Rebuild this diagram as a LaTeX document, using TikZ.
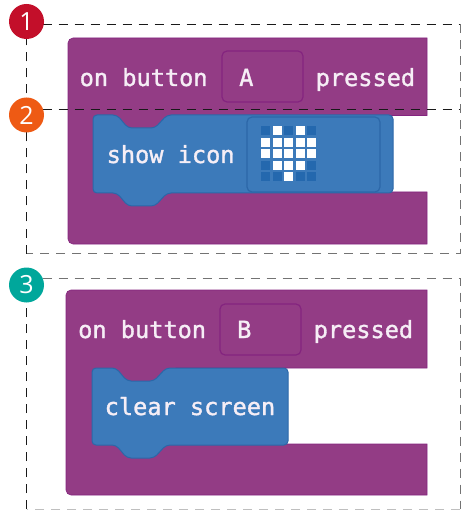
\documentclass[tikz,border=0pt]{standalone}
\usepackage{fontspec}
\setmainfont{Open Sans}
\newfontfamily\blockfont[FakeBold=1.4]{DejaVu Sans Mono}
\definecolor{purp}{HTML}{933C85}
\definecolor{purpline}{HTML}{84247F}
\definecolor{blk}{HTML}{3C7ABA}
\definecolor{blkline}{HTML}{2C67A8}
\definecolor{ledoff}{HTML}{2468AE}
\definecolor{txt}{HTML}{F6EEF6}
\definecolor{redc}{HTML}{C30F2A}
\definecolor{orangec}{HTML}{EE5A14}
\definecolor{tealc}{HTML}{00A79B}
\newcommand{\hatblock}[4]{% x1 x2 y1 y2: statement block with notch
  \fill[blk,draw=blkline,line width=1pt,rounded corners=4pt]
    (#1,#3) -- ({#1+24},#3) -- ({#1+35},{#3+13}) -- ({#1+62},{#3+13}) -- ({#1+74},#3)
    -- (#2,#3) -- (#2,#4) -- ({#1+74},#4) -- ({#1+62},{#4+13}) -- ({#1+35},{#4+13})
    -- ({#1+24},#4) -- (#1,#4) -- cycle;}
\newcommand{\eventblock}[6]{% x1 x2 y1 y2(bar bottom) y3(lower top) y4
  \fill[purp,draw=purpline,line width=.6pt]
    (#2,#3) [rounded corners=5pt] -- (#1,#3) -- (#1,#6) [sharp corners] -- (#2,#6) -- (#2,#5)
    -- ({#1+110},#5) -- ({#1+110},#4) -- (#2,#4) -- cycle;}
\newcommand{\ledrow}[6]{% y, five bits
  \ledcell{265.7}{#1}{#2}\ledcell{277.3}{#1}{#3}\ledcell{288.7}{#1}{#4}\ledcell{300.3}{#1}{#5}\ledcell{311.7}{#1}{#6}}
\newcommand{\ledcell}[3]{%
  \ifnum#3=1\relax\def\ledcolor{white}\else\def\ledcolor{ledoff}\fi
  \fill[\ledcolor] ({#1-4.5},{#2-4.5}) rectangle ({#1+4.5},{#2+4.5});}
\tikzset{
  blocktext/.style={font=\blockfont\fontsize{23.6}{26}\selectfont,text=txt,inner sep=0pt,anchor=base west},
  field/.style={draw=purpline,line width=1.2pt,rounded corners=5pt},
  guide/.style={draw=black!90,line width=1pt,dash pattern=on 9pt off 7pt},
  guidegray/.style={draw=black!55,line width=1pt,dash pattern=on 9pt off 7pt},
  guidefaint/.style={draw=black!25,line width=1pt,dash pattern=on 9pt off 7pt},
  badge/.style={circle,minimum size=35pt,inner sep=0pt,text=white,font=\fontsize{25}{27}\selectfont}
}
\begin{document}
\begin{tikzpicture}[x=1pt,y=-1pt]
\useasboundingbox (0,0) rectangle (465,510);
% guide boxes
\coordinate (b1a) at (26.5,24.5);
\coordinate (b1b) at (460,24.5);
\coordinate (b1c) at (460,253.5);
\coordinate (b1d) at (26.5,253.5);
\coordinate (m1a) at (26.5,110);
\coordinate (m1b) at (460,110);
\coordinate (b3a) at (26.5,278);
\coordinate (b3b) at (460,278);
\coordinate (b3c) at (460,509);
\coordinate (b3d) at (26.5,509);
\draw[guide] (b1a) -- (b1b);
\draw[guidegray] (b1b) -- (b1c) -- (b1d);
\draw[guide] (b1d) -- (b1a);
\draw[guidegray] (b3a) -- (b3b) -- (b3c);
\draw[guidefaint] (b3c) -- (b3d);
\draw[guide] (b3d) -- (b3a);
% block 1
\eventblock{68}{427}{38}{115.5}{192}{244}
\draw[field] (222,51) rectangle (303,102);
\node[blocktext] (t1) at (79.5,86) {on button};
\node[blocktext] (t2) at (239,86) {A};
\node[blocktext] (t3) at (315.5,86) {pressed};
\hatblock{93}{393}{115}{193}
\node[blocktext] (t4) at (106.5,163) {show icon};
\fill[blk,draw=blkline,line width=1.2pt,rounded corners=5pt] (247,117) rectangle (380,192);
\ledrow{130.7}{0}{1}{0}{1}{0}
\ledrow{142.7}{1}{1}{1}{1}{1}
\ledrow{154}{1}{1}{1}{1}{1}
\ledrow{165.3}{0}{1}{1}{1}{0}
\ledrow{176.7}{0}{0}{1}{0}{0}
% block 2
\eventblock{66}{427}{290}{368}{444}{495}
\draw[field] (220,304) rectangle (301,355);
\node[blocktext] (t5) at (78,338) {on button};
\node[blocktext] (t6) at (237,338) {B};
\node[blocktext] (t7) at (313.5,338) {pressed};
\hatblock{92}{288}{368}{445}
\node[blocktext] (t8) at (104.5,415) {clear screen};
% guide over the blocks
\draw[guide] (m1a) -- (m1b);
% badges
\node[badge,fill=redc] (n1) at (26.5,21.5) {1};
\node[badge,fill=orangec] (n2) at (26.5,115) {2};
\node[badge,fill=tealc] (n3) at (26.5,285) {3};
\end{tikzpicture}
\end{document}
